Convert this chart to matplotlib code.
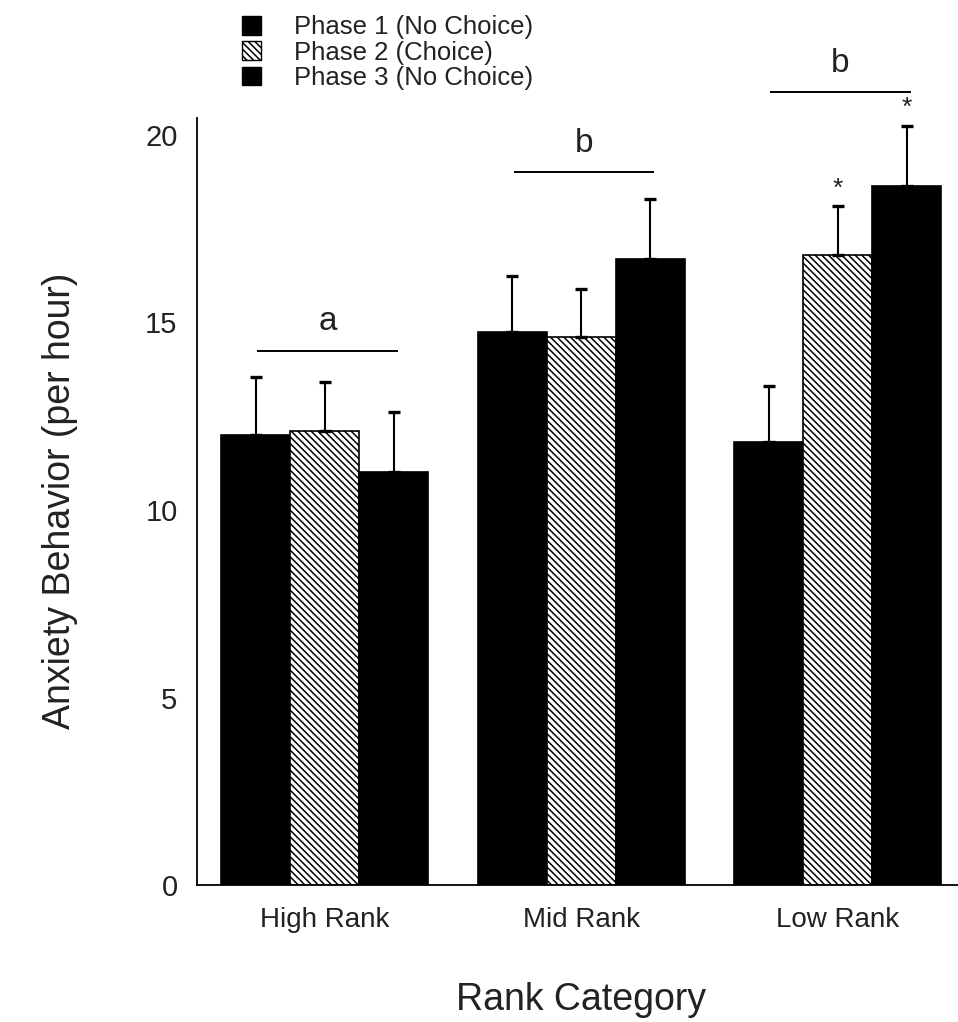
import numpy as np
import matplotlib
matplotlib.use("Agg")
import matplotlib.pyplot as plt
from matplotlib.patches import Patch

plt.rcParams["font.family"] = ["Liberation Sans", "DejaVu Sans"]
plt.rcParams["hatch.linewidth"] = 1.1

# Données
categories = ["High Rank", "Mid Rank", "Low Rank"]
phases = ["Phase 1 (No Choice)", "Phase 2 (Choice)", "Phase 3 (No Choice)"]
phase1 = [12.0, 14.75, 11.8]
phase2 = [12.1, 14.6, 16.8]
phase3 = [11.0, 16.7, 18.65]
phase1_err = [1.55, 1.5, 1.5]
phase2_err = [1.3, 1.3, 1.3]
phase3_err = [1.6, 1.6, 1.6]
sig_labels = ["a", "b", "b"]
sig_y = [14.25, 19.0, 21.15]
stars = [(2, 1), (2, 2)]  # (groupe, phase)

values = [phase1, phase2, phase3]
errors = [phase1_err, phase2_err, phase3_err]
hatches = [None, "\\\\\\\\\\", None]
fills = ["black", "white", "black"]

fig = plt.figure(figsize=(9.58, 10.22), dpi=100)
ax = fig.add_axes([0.2056, 0.134, 0.7944, 0.7505])

x = np.arange(len(categories))
w = 0.269
for i in range(3):
    pos = x + (i - 1) * w
    ax.bar(pos, values[i], width=w, color=fills[i], edgecolor="black",
           linewidth=1.2, hatch=hatches[i], zorder=2)
    ax.errorbar(pos, values[i], yerr=[np.zeros(3), errors[i]], fmt="none",
                ecolor="black", elinewidth=1.5, capsize=4.5, capthick=2.4, zorder=3)

# Lignes de significativité
for g in range(3):
    ax.plot([x[g] - 0.26, x[g] + 0.28], [sig_y[g], sig_y[g]], color="black",
            linewidth=1.4, clip_on=False)
    ax.text(x[g] + 0.01, sig_y[g] + 0.35, sig_labels[g], ha="center", va="bottom",
            fontsize=24, color="#222222", clip_on=False)

for g, p in stars:
    xs = x[g] + (p - 1) * w
    top = values[p][g] + errors[p][g]
    ax.text(xs, top + 0.15, "*", ha="center", va="bottom", fontsize=19,
            color="#222222", clip_on=False)

ax.set_xlim(-0.499, 2.468)
ax.set_ylim(0, 20.45)
ax.set_yticks([0, 5, 10, 15, 20])
ax.set_xticks(x)
ax.set_xticklabels(categories)
ax.tick_params(axis="both", length=0, labelsize=20, colors="#222222")
ax.tick_params(axis="y", pad=14, labelsize=21)
ax.tick_params(axis="x", pad=16)
for lab in ax.get_yticklabels() + ax.get_xticklabels():
    lab.set_color("#222222")
ax.spines["top"].set_visible(False)
ax.spines["right"].set_visible(False)
ax.spines["left"].set_linewidth(1.3)
ax.spines["bottom"].set_linewidth(1.3)

fig.text(0.063, 0.51, "Anxiety Behavior (per hour)", rotation=90, ha="center",
         va="center", fontsize=27, color="#222222")
fig.text(0.606, 0.022, "Rank Category", ha="center", va="center",
         fontsize=27, color="#222222")

handles = [Patch(facecolor=fills[i], edgecolor="black", hatch=hatches[i],
                 linewidth=1.0) for i in range(3)]
fig.legend(handles, phases, loc="upper left", bbox_to_anchor=(0.236, 1.0),
           frameon=False, fontsize=18.5, handlelength=0.75, handleheight=0.75,
           handletextpad=1.3, labelspacing=0.05, borderaxespad=0.2,
           labelcolor="#222222")

fig.savefig("out.png", dpi=100)
